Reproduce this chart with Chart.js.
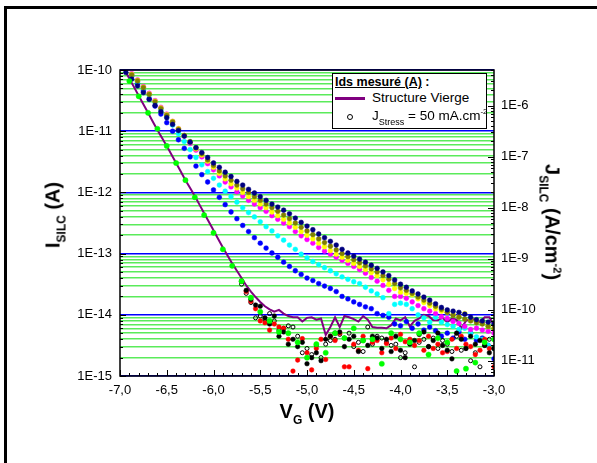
<!DOCTYPE html>
<html><head><meta charset="utf-8">
<script src="https://cdn.jsdelivr.net/npm/chart.js@4.4.0/dist/chart.umd.min.js"></script>
<style>
html,body{margin:0;padding:0;background:#fff;}
#wrap{position:relative;width:597px;height:463px;overflow:hidden;font-family:"Liberation Sans",Arial,sans-serif;color:#000;}
#frame{position:absolute;left:4px;top:6px;width:700px;height:600px;border-left:3px solid #000;border-top:3px solid #000;}
canvas{position:absolute;left:0;top:0;}
.t{position:absolute;font-weight:bold;white-space:nowrap;font-size:20px;line-height:24px;}
.t sub{font-size:12px;vertical-align:baseline;position:relative;top:6px;}
.t sup{font-size:11px;vertical-align:baseline;position:relative;top:-8px;}
#legend{position:absolute;left:332px;top:73px;width:153px;height:54px;border:1.5px solid #000;background:#fff;}
#legend div{position:absolute;white-space:nowrap;line-height:16px;}
#legend sub{font-size:9px;vertical-align:baseline;position:relative;top:5px;}
#legend sup{font-size:8px;vertical-align:baseline;position:relative;top:-6px;}
</style></head>
<body>
<div id="wrap">
<div id="frame"></div>
<canvas id="c" width="597" height="463"></canvas>
<div class="t" style="left:54px;top:215px;transform:translate(-50%,-50%) rotate(-90deg);">I<sub>SILC</sub> (A)</div>
<div class="t" style="left:307px;top:412px;transform:translate(-50%,-50%);">V<sub>G</sub> (V)</div>
<div class="t" style="left:551px;top:222px;transform:translate(-50%,-50%) rotate(90deg);">J<sub>SILC</sub> (A/cm<sup>-2</sup>)</div>
<div id="legend">
  <div style="left:2px;top:0px;font-weight:bold;font-size:12.5px;"><span style="text-decoration:underline">Ids mesuré (A)</span> :</div>
  <div style="left:2px;top:23px;width:30px;height:2.5px;background:#800080;"></div>
  <div style="left:39px;top:16px;font-size:13.5px;">Structure Vierge</div>
  <div style="left:14px;top:40px;width:4px;height:4px;border:1px solid #000;border-radius:50%;"></div>
  <div style="left:39px;top:34px;font-size:13.5px;">J<sub>Stress</sub> = 50 mA.cm<sup>-2</sup></div>
</div>
</div>
<script>
// gate voltage grids (V)
const vg = [-7.00,-6.95,-6.90,-6.85,-6.80,-6.75,-6.70,-6.65,-6.60,-6.55,-6.50,-6.45,-6.40,-6.35,-6.30,-6.25,-6.20,-6.15,-6.10,-6.05,-6.00,-5.95,-5.90,-5.85,-5.80,-5.75,-5.70,-5.65,-5.60,-5.55,-5.50,-5.45,-5.40,-5.35,-5.30,-5.25,-5.20,-5.15,-5.10,-5.05,-5.00,-4.95,-4.90,-4.85,-4.80,-4.75,-4.70,-4.65,-4.60,-4.55,-4.50,-4.45,-4.40,-4.35,-4.30,-4.25,-4.20,-4.15,-4.10,-4.05,-4.00,-3.95,-3.90,-3.85,-3.80,-3.75,-3.70,-3.65,-3.60,-3.55,-3.50,-3.45,-3.40,-3.35,-3.30,-3.25,-3.20,-3.15,-3.10,-3.05,-3.00];
const vgUp = [-7.0000,-6.9375,-6.8750,-6.8125,-6.7500,-6.6875,-6.6250,-6.5625,-6.5000,-6.4375,-6.3750,-6.3125,-6.2500,-6.1875,-6.1250,-6.0625,-6.0000,-5.9375,-5.8750,-5.8125,-5.7500,-5.6875,-5.6250,-5.5625,-5.5000,-5.4375,-5.3750,-5.3125,-5.2500,-5.1875,-5.1250,-5.0625,-5.0000,-4.9375,-4.8750,-4.8125,-4.7500,-4.6875,-4.6250,-4.5625,-4.5000,-4.4375,-4.3750,-4.3125,-4.2500,-4.1875,-4.1250,-4.0625,-4.0000,-3.9375,-3.8750,-3.8125,-3.7500,-3.6875,-3.6250,-3.5625,-3.5000,-3.4375,-3.3750,-3.3125,-3.2500,-3.1875,-3.1250,-3.0625,-3.0000];
const vgTenth = [-6.9,-6.8,-6.7,-6.6,-6.5,-6.4,-6.3,-6.2,-6.1,-6.0,-5.9,-5.8,-5.7,-5.6,-5.5,-5.4,-5.3,-5.2,-5.1,-5.0,-4.9,-4.8,-4.7,-4.6,-4.5,-4.4,-4.3,-4.2,-4.1,-4.0,-3.9,-3.8,-3.7,-3.6,-3.5,-3.4,-3.3,-3.2,-3.1,-3.0];
const vgLow = vg.slice(26); // from -5.70 V

// log10(I) values
const logVierge = [-9.87,-10.00,-10.14,-10.28,-10.42,-10.56,-10.70,-10.84,-10.98,-11.11,-11.24,-11.38,-11.52,-11.66,-11.80,-11.93,-12.06,-12.20,-12.34,-12.48,-12.62,-12.76,-12.90,-13.03,-13.16,-13.28,-13.40,-13.52,-13.62,-13.71,-13.79,-13.86,-13.91,-13.95,-13.92,-13.98,-14.02,-14.04,-14.04,-14.11,-14.05,-14.04,-14.08,-14.06,-14.33,-14.20,-14.04,-14.20,-14.02,-14.04,-14.07,-14.11,-14.02,-14.08,-14.20,-14.21,-14.21,-14.22,-14.17,-14.06,-14.09,-14.04,-14.19,-14.10,-14.06,-14.00,-14.02,-14.09,-14.09,-14.05,-14.12,-14.06,-14.08,-14.22,-14.10,-14.06,-14.08,-14.12,-14.04,-14.04,-14.17];
const logNavy = [-9.93,-10.04,-10.15,-10.26,-10.37,-10.48,-10.58,-10.68,-10.78,-10.89,-10.99,-11.08,-11.18,-11.27,-11.35,-11.43,-11.52,-11.59,-11.67,-11.74,-11.82,-11.88,-11.95,-12.01,-12.07,-12.13,-12.19,-12.24,-12.29,-12.35,-12.42,-12.49,-12.55,-12.61,-12.68,-12.74,-12.80,-12.86,-12.93,-12.99,-13.04,-13.09,-13.14,-13.19,-13.24,-13.30,-13.36,-13.43,-13.50,-13.55,-13.61,-13.66,-13.71,-13.76,-13.82,-13.88,-13.92,-13.94,-13.96,-13.99,-14.04,-14.08,-14.10,-14.12,-14.15];
const logOlive = [-9.88,-9.98,-10.08,-10.18,-10.29,-10.40,-10.52,-10.63,-10.74,-10.85,-10.97,-11.07,-11.17,-11.27,-11.37,-11.47,-11.56,-11.65,-11.73,-11.80,-11.88,-11.94,-12.00,-12.07,-12.13,-12.19,-12.25,-12.31,-12.37,-12.43,-12.50,-12.57,-12.63,-12.69,-12.76,-12.82,-12.88,-12.94,-13.00,-13.05,-13.10,-13.15,-13.20,-13.25,-13.30,-13.36,-13.42,-13.49,-13.56,-13.60,-13.65,-13.71,-13.76,-13.81,-13.86,-13.91,-13.96,-14.01,-14.04,-14.07,-14.10,-14.13,-14.15,-14.19,-14.22];
const logYellow = [-9.88,-9.98,-10.07,-10.17,-10.28,-10.39,-10.51,-10.62,-10.73,-10.84,-10.96,-11.07,-11.18,-11.29,-11.39,-11.49,-11.59,-11.69,-11.78,-11.86,-11.93,-12.00,-12.07,-12.13,-12.19,-12.25,-12.32,-12.38,-12.44,-12.50,-12.57,-12.64,-12.70,-12.76,-12.83,-12.89,-12.95,-13.01,-13.06,-13.11,-13.16,-13.21,-13.26,-13.31,-13.36,-13.43,-13.50,-13.57,-13.63,-13.65,-13.67,-13.74,-13.80,-13.85,-13.90,-13.94,-13.96,-13.99,-14.03,-13.98,-14.08,-14.11,-14.14,-14.19,-14.22];
const logMagenta = [-9.86,-9.96,-10.06,-10.16,-10.27,-10.38,-10.50,-10.61,-10.72,-10.84,-10.96,-11.08,-11.20,-11.31,-11.42,-11.53,-11.63,-11.73,-11.83,-11.91,-11.99,-12.06,-12.13,-12.19,-12.25,-12.31,-12.38,-12.44,-12.50,-12.56,-12.64,-12.71,-12.77,-12.83,-12.90,-12.96,-13.01,-13.06,-13.11,-13.16,-13.21,-13.26,-13.32,-13.39,-13.45,-13.52,-13.60,-13.70,-13.70,-13.73,-13.79,-13.85,-13.90,-13.94,-13.98,-14.03,-14.06,-14.11,-14.14,-14.19,-14.24,-14.22,-14.25,-14.27,-14.30];
const logCyan = [-9.87,-9.97,-10.08,-10.19,-10.30,-10.41,-10.53,-10.65,-10.77,-10.90,-11.04,-11.17,-11.30,-11.43,-11.55,-11.66,-11.77,-11.88,-11.98,-12.07,-12.16,-12.25,-12.33,-12.40,-12.48,-12.56,-12.63,-12.71,-12.78,-12.86,-12.93,-13.01,-13.07,-13.13,-13.18,-13.23,-13.28,-13.33,-13.38,-13.42,-13.46,-13.49,-13.55,-13.61,-13.66,-13.72,-13.98,-13.83,-13.81,-13.83,-13.90,-14.00,-14.05,-14.12,-14.04,-14.12,-14.16,-14.19,-14.24,-14.22,-14.30,-14.36,-14.40,-14.50,-14.55];
const logBlue = [-9.88,-9.99,-10.10,-10.22,-10.34,-10.47,-10.59,-10.72,-10.86,-11.00,-11.14,-11.28,-11.42,-11.57,-11.71,-11.83,-11.96,-12.08,-12.20,-12.32,-12.43,-12.54,-12.64,-12.74,-12.83,-12.91,-12.99,-13.06,-13.14,-13.21,-13.28,-13.34,-13.40,-13.44,-13.49,-13.53,-13.57,-13.62,-13.70,-13.74,-13.79,-13.83,-13.87,-13.90,-13.98,-14.01,-14.04,-14.15,-14.18,-14.11,-14.22,-14.15,-14.25,-14.20,-14.26,-14.35,-14.30,-14.38,-14.28,-14.40,-14.30,-14.42,-14.38,-14.50,-14.72];
const logGreen = [-10.18,-10.43,-10.70,-10.96,-11.24,-11.52,-11.80,-12.08,-12.37,-12.66,-12.93,-13.20,-13.45,-13.72,-13.95,-14.10,-14.28,-14.30,-14.45,-14.70,-14.48,-14.62,-14.30,-14.38,-14.22,-14.42,-14.40,-14.80,-14.30,-14.40,-14.45,-14.30,-14.65,-14.38,-14.45,-14.92,-14.88,-14.78,-14.45,-14.40];
const logBlack = [-13.45,-13.60,-13.75,-13.84,-13.86,-14.05,-14.15,-14.02,-14.35,-14.28,-14.48,-14.40,-14.52,-14.45,-14.80,-14.70,-14.62,-14.75,-14.40,-14.35,-14.30,-14.28,-14.52,-14.40,-14.35,-14.60,-14.42,-14.50,-14.35,-14.38,-14.55,-14.40,-14.60,-14.35,-14.58,-14.70,-14.48,-14.42,-14.32,-14.28,-14.52,-14.42,-14.30,-14.50,-14.58,-14.72,-14.30,-14.40,-14.55,-14.35,-14.48,-14.42,-14.50,-14.62,-14.55];
const logRed = [-13.45,-13.62,-13.78,-13.90,-14.10,-14.13,-14.25,-14.15,-14.20,-14.22,-14.40,-14.92,-14.74,-14.39,-14.62,-14.90,-14.55,-14.40,-14.73,-14.35,-14.42,-14.30,-14.85,-14.85,-14.48,-14.58,-14.35,-14.88,-14.45,-14.42,-14.62,-14.47,-14.38,-14.55,-14.32,-14.44,-14.40,-14.50,-14.42,-14.58,-14.35,-14.55,-14.48,-14.62,-14.60,-14.40,-14.55,-14.35,-14.48,-14.52,-14.65,-14.58,-14.40,-14.55,-14.85];
const logOpen = [-13.50,-13.65,-13.80,-14.05,-14.02,-14.08,-13.98,-14.10,-14.25,-14.22,-14.18,-14.20,-14.35,-14.62,-14.55,-14.65,-14.50,-14.70,-14.48,-14.42,-14.40,-14.32,-14.38,-14.30,-14.52,-14.45,-14.60,-14.20,-14.48,-14.35,-14.38,-14.45,-14.50,-14.48,-14.70,-14.62,-14.42,-14.85,-14.45,-14.40,-14.52,-14.38,-14.55,-14.42,-14.48,-14.60,-14.35,-14.58,-14.55,-14.75,-14.62,-14.85,-14.50,-14.40,-14.55];

// axis tick labels (decade exponents)
const leftDecades = [-15,-14,-13,-12,-11,-10];
const rightDecades = [-11,-10,-9,-8,-7,-6];
const rightRange = [-11.30, -5.30]; // log10 J at bottom / top of the frame

function pts(xs, logs){
  const out=[];
  xs.forEach((x,i)=>{ if(logs[i]!==null && logs[i]!==undefined) out.push({x:x, y:Math.pow(10, logs[i])}); });
  return out;
}
function dots(label, xs, logs, color, r){
  return {label, data:pts(xs,logs), showLine:false, pointRadius:r, pointHoverRadius:r,
    pointBackgroundColor:color, pointBorderColor:color, pointBorderWidth:0.5, order:1};
}
const datasets = [
  dots('green', vgTenth, logGreen, '#00ff00', 2.6),
  dots('black', vgLow, logBlack, '#000000', 2.3),
  dots('red', vgLow, logRed, '#ff0000', 2.3),
  {label:'open', data:pts(vgLow, logOpen), showLine:false, pointRadius:2, pointHoverRadius:2,
    pointBackgroundColor:'rgba(255,255,255,0)', pointBorderColor:'#000', pointBorderWidth:1, order:1},
  dots('navy', vgUp, logNavy, '#000080', 2.4),
  dots('olive', vgUp, logOlive, '#808000', 2.4),
  dots('yellow', vgUp, logYellow, '#ffff00', 2.4),
  dots('magenta', vgUp, logMagenta, '#ff00ff', 2.4),
  dots('cyan', vgUp, logCyan, '#00ffff', 2.4),
  dots('blue', vgUp, logBlue, '#0000ff', 2.4),
  {label:'Structure Vierge', data:pts(vg, logVierge), showLine:true, borderColor:'#800080', borderWidth:2,
    pointRadius:0, tension:0, order:5}
];

function decadeTicks(decs, withMinor){
  const t=[];
  for(let i=0;i<decs.length;i++){
    const e=decs[i];
    t.push({value:Math.pow(10,e), dec:true, exp:e});
    if(withMinor && i<decs.length-1){
      for(let m=2;m<=9;m++) t.push({value:m*Math.pow(10,e), dec:false});
    }
  }
  return t;
}
const fontSpec = {family:'"Liberation Sans", Arial, sans-serif', size:13};

const decor = {
  id:'decor',
  afterDatasetsDraw(chart){
    const {ctx, chartArea:a, scales} = chart;
    ctx.save();
    ctx.strokeStyle='#000'; ctx.lineWidth=1;
    const seg=(x1,y1,x2,y2)=>{ctx.beginPath();ctx.moveTo(x1,y1);ctx.lineTo(x2,y2);ctx.stroke();};
    for(let k=0;k<=40;k++){
      const p=Math.round(scales.x.getPixelForValue(-7+k*0.1))+0.5;
      seg(p,a.bottom,p,a.bottom-(k%5===0?6:3));
    }
    for(let e=-15;e<=-10;e++) for(let m=1;m<=9;m++){
      const v=m*Math.pow(10,e); if(v>1.0001e-10) continue;
      const p=Math.round(scales.y.getPixelForValue(v))+0.5;
      seg(a.left,p,a.left+(m===1?6:3),p);
    }
    const lo=Math.pow(10,rightRange[0]), hi=Math.pow(10,rightRange[1]);
    for(let e=-12;e<=-5;e++) for(let m=1;m<=9;m++){
      const v=m*Math.pow(10,e); if(v<lo||v>hi) continue;
      const p=Math.round(scales.y2.getPixelForValue(v))+0.5;
      seg(a.right,p,a.right-(m===1?6:3),p);
    }
    ctx.lineWidth=1.5;
    ctx.strokeRect(a.left,a.top,a.right-a.left,a.bottom-a.top);
    ctx.restore();
  }
};

new Chart(document.getElementById('c'), {
  type:'scatter',
  data:{datasets},
  options:{
    responsive:false, animation:false, devicePixelRatio:1,
    layout:{padding:{top:70,left:0,right:0,bottom:0}},
    plugins:{legend:{display:false}, tooltip:{enabled:false}},
    scales:{
      x:{type:'linear', position:'bottom', min:-7, max:-3,
        ticks:{stepSize:0.5, color:'#000', font:fontSpec, padding:7,
          callback:v=>v.toFixed(1).replace('.', ',')},
        grid:{display:false, drawTicks:false}, border:{display:false},
        afterFit:s=>{s.height=87;}},
      y:{type:'logarithmic', position:'left', min:1e-15, max:1e-10,
        afterBuildTicks:s=>{s.ticks=decadeTicks(leftDecades,true);},
        ticks:{autoSkip:false, color:'#000', font:fontSpec, padding:8,
          callback:function(v,i,t){return t[i].dec ? '1E'+t[i].exp : '';}},
        grid:{drawTicks:false, color:c=>(c.tick&&c.tick.dec)?'#0000ff':'rgb(90,235,90)', lineWidth:1.5},
        border:{display:false},
        afterFit:s=>{s.width=120;}},
      y2:{type:'logarithmic', position:'right', min:Math.pow(10,rightRange[0]), max:Math.pow(10,rightRange[1]),
        afterBuildTicks:s=>{s.ticks=decadeTicks(rightDecades,false);},
        ticks:{autoSkip:false, color:'#000', font:fontSpec, padding:7,
          callback:function(v,i,t){return '1E'+t[i].exp;}},
        grid:{display:false, drawTicks:false}, border:{display:false},
        afterFit:s=>{s.width=103;}}
    }
  },
  plugins:[decor]
});
</script>
</body></html>
